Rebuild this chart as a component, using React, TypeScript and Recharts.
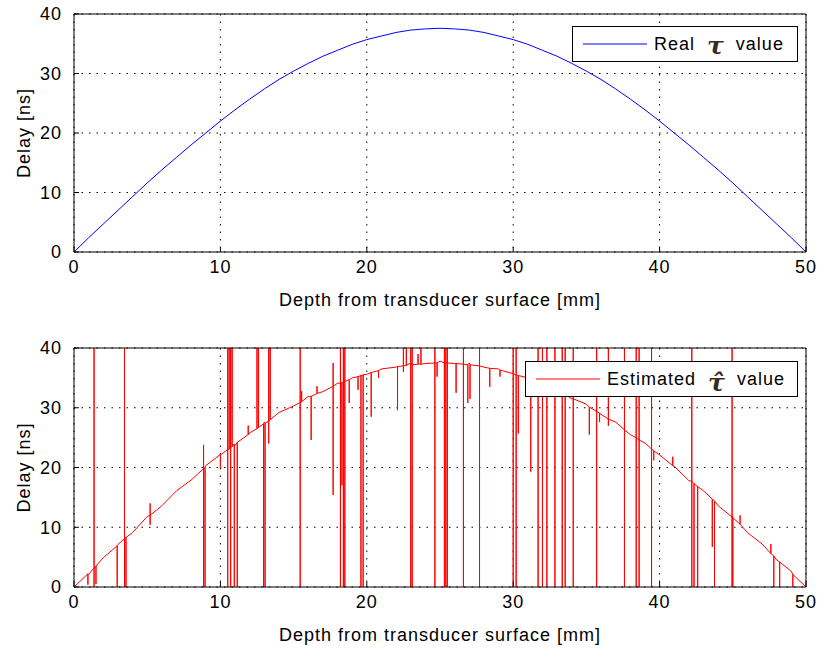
import React from 'react';
import { LineChart, Line, XAxis, YAxis, CartesianGrid, Legend } from 'recharts';

const depthMm = [
  0, 1, 2, 3, 4, 5, 6, 7, 8, 9, 10, 11, 12, 13, 14, 15, 16, 17, 18, 19, 20, 21, 22, 23, 24, 25,
  26, 27, 28, 29, 30, 31, 32, 33, 34, 35, 36, 37, 38, 39, 40, 41, 42, 43, 44, 45, 46, 47, 48, 49, 50,
];

// top plot: real tau [ns]
const realTau = [
  0, 2.4, 4.7, 7.0, 9.3, 11.6, 13.8, 15.9, 18.0, 20.0, 22.0, 23.9, 25.7, 27.4, 29.0, 30.4, 31.7,
  32.9, 33.9, 34.9, 35.7, 36.3, 36.9, 37.3, 37.5, 37.6, 37.5, 37.3, 36.9, 36.3, 35.7, 34.9, 33.9,
  32.9, 31.7, 30.4, 29.0, 27.4, 25.7, 23.9, 22.0, 20.0, 18.0, 15.9, 13.8, 11.6, 9.3, 7.0, 4.7, 2.4, 0,
];

// bottom plot: estimated tau, the underlying trend
const estTauBase = [
  0, 2.1, 4.9, 7.1, 9.1, 11.8, 13.6, 16.1, 17.9, 20.3, 22.2, 23.7, 25.8, 27.6, 29.2, 30.3, 31.9,
  32.7, 34.1, 35.0, 35.6, 36.5, 36.8, 37.5, 37.4, 37.8, 37.4, 37.5, 36.8, 36.5, 35.7, 35.0, 34.1,
  32.8, 31.5, 30.6, 28.9, 27.6, 25.5, 24.1, 22.1, 20.2, 17.8, 16.1, 13.6, 11.8, 9.1, 7.2, 4.5, 2.6, 0,
];

// outliers: [depth, trend value there, ...values the estimate jumps to]
const estSpikes: number[][] = [
  [0.95, 2.2, 0.4], [1.37, 3.2, 40, 0], [1.5, 3.5, 0.5], [2.95, 6.9, 0], [3.45, 8.1, 40, 0],
  [3.55, 8.3, 0], [5.2, 12.0, 14.0, 10.4], [8.85, 19.8, 23.8, 0], [8.95, 20.0, 0], [10.0, 22.1, 19.8],
  [10.5, 23.0, 40, 0], [10.6, 23.1, 40, 24], [10.7, 23.4, 40, 0], [10.8, 23.5, 40, 24.5],
  [10.95, 23.9, 0], [11.15, 24.2, 0], [11.9, 25.5, 27], [12.5, 26.5, 40], [12.6, 26.7, 40],
  [12.95, 27.3, 0], [13.05, 27.4, 0], [13.3, 27.8, 40, 24], [13.4, 28.0, 40], [15.45, 30.9, 40, 0],
  [15.55, 31.0, 32.8], [16.2, 31.9, 24.6], [16.6, 32.4, 33.6], [17.7, 33.6, 37.5, 15.4],
  [18.2, 34.1, 40, 0], [18.3, 34.2, 17], [18.4, 34.3, 40, 0], [18.5, 34.4, 40, 0], [18.8, 34.7, 30.8],
  [19.4, 35.2, 33], [19.6, 35.4, 0], [19.75, 35.5, 0], [20.3, 35.9, 28.5], [20.8, 36.2, 35],
  [22.1, 36.9, 29.6], [22.5, 37.0, 40, 36], [22.7, 37.1, 40], [23.0, 37.2, 40, 0], [23.1, 37.2, 40, 0],
  [23.5, 37.3, 39], [23.7, 37.3, 40], [24.65, 37.5, 40, 0], [24.8, 37.5, 35.2], [25.3, 37.5, 40, 0],
  [25.4, 37.5, 40, 0], [25.5, 37.5, 40, 0], [26.1, 37.4, 32.5], [26.6, 37.3, 40, 0], [26.9, 37.2, 30.8],
  [27.05, 37.2, 31.5], [27.7, 37.0, 40, 0], [28.4, 36.6, 33.5], [29.1, 36.3, 35.2], [30.0, 35.7, 40, 0],
  [30.2, 35.5, 40, 0], [30.35, 35.4, 25.7], [31.2, 34.7, 19.3], [31.7, 34.3, 40, 0], [32.0, 33.9, 40, 0],
  [32.3, 33.6, 40, 0], [32.85, 33.0, 40, 0], [33.35, 32.4, 40, 0], [33.55, 32.2, 40, 0],
  [34.1, 31.5, 40, 0], [35.2, 30.1, 25.5], [35.7, 29.4, 40, 0], [35.9, 29.1, 27.6], [36.5, 28.1, 40, 27],
  [37.6, 26.3, 40, 0], [38.4, 25.0, 40, 0], [38.6, 24.6, 40, 0], [39.45, 23.1, 40, 0], [39.6, 22.8, 21.2],
  [40.9, 20.3, 21.8], [42.2, 17.7, 40, 0], [42.35, 17.3, 0], [42.6, 16.8, 0], [43.6, 14.7, 6.7],
  [43.75, 14.4, 0], [44.95, 11.7, 40, 0], [45.0, 11.6, 0], [45.5, 10.5, 12.0], [47.6, 5.6, 7.2],
  [47.8, 5.2, 0], [48.2, 4.2, 0], [49.1, 2.1, 0],
];

const xTicks = [0, 10, 20, 30, 40, 50];
const yTicks = [0, 10, 20, 30, 40];

const realPoints = depthMm.map((d, i) => ({ x: d, y: realTau[i] }));
const estPoints = [
  ...depthMm.map((d, i) => ({ x: d, y: estTauBase[i] })),
  ...estSpikes.flatMap(([x, base, ...to]) => [
    { x, y: base },
    ...to.map((v) => ({ x, y: v })),
    { x, y: base },
  ]),
].sort((a, b) => a.x - b.x);

const tickStyle = { fill: '#000', fontSize: 18 };

const LegendBox = ({ color, label, hat, width }: { color: string; label: string; hat?: boolean; width: number }) => (
  <div
    style={{
      width,
      height: 36,
      boxSizing: 'border-box',
      border: '1px solid #000',
      background: '#fff',
      display: 'flex',
      alignItems: 'center',
      paddingLeft: 10,
      fontSize: 18,
      color: '#000',
      whiteSpace: 'nowrap',
    }}
  >
    <svg width={64} height={4} style={{ display: 'block' }}>
      <line x1={0} y1={2} x2={64} y2={2} stroke={color} strokeWidth={1} />
    </svg>
    <span style={{ marginLeft: 7 }}>{label}</span>
    <span
      style={{
        position: 'relative',
        display: 'inline-block',
        margin: '0 12px 0 12px',
        font: 'italic bold 25px "DejaVu Serif", serif',
        lineHeight: '25px',
        color: '#3a2a1a',
        top: hat ? 3 : 1,
        letterSpacing: 0,
      }}
    >
      {hat ? 'τ\u0302' : 'τ'}
    </span>
    <span>value</span>
  </div>
);

export default function App() {
  return (
    <div
      style={{
        position: 'fixed',
        left: 0,
        top: 0,
        width: 818,
        height: 651,
        background: '#fff',
        fontFamily: '"Liberation Sans", Arial, sans-serif',
        letterSpacing: '1px',
        overflow: 'hidden',
      }}
    >
      <div style={{ position: 'absolute', left: 0, top: 0 }}>
        <LineChart width={818} height={330} data={realPoints} margin={{ top: 13, right: 11, bottom: 0, left: 0 }}>
          <CartesianGrid stroke="#000" strokeDasharray="1.5 6" />
          <XAxis
            dataKey="x"
            type="number"
            domain={[0, 50]}
            ticks={xTicks}
            interval={0}
            height={78}
            tickSize={-5}
            tickMargin={13}
            stroke="#000"
            tick={tickStyle}
            label={{ value: 'Depth from transducer surface [mm]', position: 'insideBottom', offset: 24, fill: '#000', fontSize: 18 }}
          />
          <XAxis xAxisId="top" orientation="top" type="number" domain={[0, 50]} ticks={xTicks} interval={0} height={1} tickSize={-5} tick={false} stroke="#000" />
          <YAxis
            type="number"
            domain={[0, 40]}
            ticks={yTicks}
            interval={0}
            width={74}
            tickSize={-5}
            tickMargin={17}
            stroke="#000"
            tick={tickStyle}
            label={{ value: 'Delay [ns]', angle: -90, position: 'insideLeft', offset: 24, fill: '#000', fontSize: 18, style: { textAnchor: 'middle' } }}
          />
          <YAxis yAxisId="right" orientation="right" type="number" domain={[0, 40]} ticks={yTicks} interval={0} width={1} tickSize={-5} tick={false} stroke="#000" />
          <Legend
            layout="horizontal"
            verticalAlign="middle"
            align="center"
            wrapperStyle={{ left: 572, top: 26, width: 226 }}
            content={() => <LegendBox color="#0000ff" label="Real" width={226} />}
          />
          <Line type="linear" dataKey="y" stroke="#0000ff" strokeWidth={1} dot={false} isAnimationActive={false} />
        </LineChart>
      </div>
      <div style={{ position: 'absolute', left: 0, top: 330 }}>
        <LineChart width={818} height={321} margin={{ top: 17, right: 11, bottom: 0, left: 0 }}>
          <CartesianGrid stroke="#000" strokeDasharray="1.5 6" />
          <XAxis
            dataKey="x"
            type="number"
            domain={[0, 50]}
            ticks={xTicks}
            interval={0}
            height={64}
            tickSize={-5}
            tickMargin={13}
            stroke="#000"
            tick={tickStyle}
            label={{ value: 'Depth from transducer surface [mm]', position: 'insideBottom', offset: 10, fill: '#000', fontSize: 18 }}
          />
          <XAxis xAxisId="top" orientation="top" type="number" domain={[0, 50]} ticks={xTicks} interval={0} height={1} tickSize={-5} tick={false} stroke="#000" />
          <YAxis
            type="number"
            domain={[0, 40]}
            ticks={yTicks}
            interval={0}
            width={74}
            tickSize={-5}
            tickMargin={17}
            stroke="#000"
            tick={tickStyle}
            allowDataOverflow
            label={{ value: 'Delay [ns]', angle: -90, position: 'insideLeft', offset: 24, fill: '#000', fontSize: 18, style: { textAnchor: 'middle' } }}
          />
          <YAxis yAxisId="right" orientation="right" type="number" domain={[0, 40]} ticks={yTicks} interval={0} width={1} tickSize={-5} tick={false} stroke="#000" />
          <Legend
            layout="horizontal"
            verticalAlign="middle"
            align="center"
            wrapperStyle={{ left: 525, top: 31, width: 273 }}
            content={() => <LegendBox color="#ff0000" label="Estimated" hat width={273} />}
          />
          <Line data={estPoints} type="linear" dataKey="y" stroke="#ff0000" strokeWidth={1} dot={false} isAnimationActive={false} />
        </LineChart>
      </div>
    </div>
  );
}
